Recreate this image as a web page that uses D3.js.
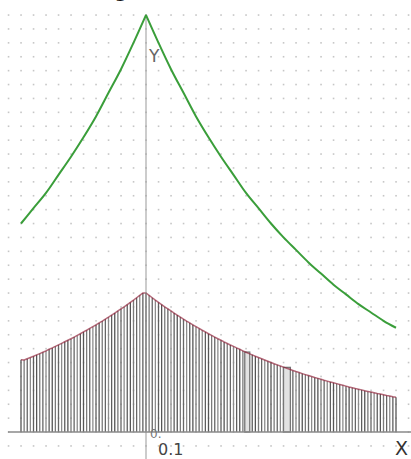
<!DOCTYPE html>
<html>
<head>
<meta charset="utf-8">
<script src="https://cdn.jsdelivr.net/npm/d3@7"></script>
<style>
  html, body { margin: 0; padding: 0; background: #fff; overflow: hidden; }
  svg { display: block; }
</style>
</head>
<body>
<svg width="411" height="459"></svg>
<script>
// green curve, sampled every 0.1 from -1 to 2
var curveX = [-1.0,-0.9,-0.8,-0.7,-0.6,-0.5,-0.4,-0.3,-0.2,-0.1,0.0,
              0.1,0.2,0.3,0.4,0.5,0.6,0.7,0.8,0.9,1.0,
              1.1,1.2,1.3,1.4,1.5,1.6,1.7,1.8,1.9,2.0];
var curveY = [1.50,1.61,1.72,1.85,1.98,2.12,2.27,2.44,2.61,2.80,3.00,
              2.80,2.61,2.44,2.27,2.12,1.98,1.85,1.72,1.61,1.50,
              1.40,1.31,1.22,1.14,1.06,0.99,0.92,0.86,0.80,0.75];

// bars (sticks), every 0.025 from -1 to 2
var barStep = 0.025;
var barStart = -1.0;
var barHeights = [
  0.52,0.518,0.527,0.536,0.545,0.555,0.564,0.574,0.584,0.595,
  0.605,0.616,0.627,0.638,0.649,0.660,0.671,0.683,0.695,0.707,
  0.720,0.732,0.745,0.758,0.771,0.785,0.798,0.812,0.826,0.841,
  0.856,0.871,0.886,0.901,0.917,0.933,0.949,0.966,0.983,1.000,
  1.000,0.983,0.966,0.949,0.933,0.917,0.901,0.886,0.871,0.856,
  0.841,0.827,0.812,0.798,0.785,0.771,0.758,0.745,0.732,0.720,
  0.707,0.695,0.683,0.671,0.660,0.648,0.637,0.626,0.616,0.605,
  0.595,0.584,0.574,0.564,0.555,0.545,0.536,0.527,0.518,0.509,
  0.500,0.491,0.483,0.475,0.467,0.459,0.451,0.443,0.435,0.428,
  0.420,0.413,0.406,0.399,0.392,0.386,0.379,0.372,0.366,0.360,
  0.354,0.348,0.342,0.336,0.330,0.324,0.319,0.313,0.308,0.303,
  0.297,0.292,0.287,0.282,0.277,0.273,0.268,0.263,0.259,0.254,
  0.250
];
// a couple of wider, lighter bars
var wideBars = [{x0: 0.79, x1: 0.83, h: 0.575}, {x0: 1.10, x1: 1.155, h: 0.465}];

var w = 411, h = 459;
var svg = d3.select("svg");

var x = d3.scaleLinear().domain([-1, 2]).range([21, 396]);
var y = d3.scaleLinear().domain([0, 3]).range([432, 15]);

// dotted grid
var gx = d3.range(-12, 22).map(function(k){ return k / 10; });
var gy = d3.range(-2, 32).map(function(k){ return k / 10; });
var dots = [];
gx.forEach(function(a){ gy.forEach(function(b){ dots.push([a, b]); }); });
svg.append("g").selectAll("rect")
  .data(dots.filter(function(d){ var px = x(d[0]), py = y(d[1]); return px > 4 && px < w - 2 && py > 10 && py < h; }))
  .enter().append("rect")
  .attr("x", function(d){ return x(d[0]) - 0.75; })
  .attr("y", function(d){ return y(d[1]) - 0.75; })
  .attr("width", 1.6)
  .attr("height", 1.6)
  .attr("fill", "#c6c6c6");

// sticks
var bars = barHeights.map(function(v, i){ return {x: barStart + i * barStep, v: v}; });
var shades = ["#555", "#7a7a7a", "#666", "#8c8c8c", "#5e5e5e"];
svg.append("g").selectAll("line")
  .data(bars)
  .enter().append("line")
  .attr("x1", function(d){ return x(d.x); })
  .attr("x2", function(d){ return x(d.x); })
  .attr("y1", y(0))
  .attr("y2", function(d){ return y(d.v); })
  .attr("stroke", function(d, i){ return shades[i % shades.length]; })
  .attr("stroke-width", 1.3);

svg.append("g").selectAll("rect")
  .data(wideBars)
  .enter().append("rect")
  .attr("x", function(d){ return x(d.x0); })
  .attr("y", function(d){ return y(d.h); })
  .attr("width", function(d){ return x(d.x1) - x(d.x0); })
  .attr("height", function(d){ return y(0) - y(d.h); })
  .attr("fill", "#e2e2e2")
  .attr("stroke", "#777")
  .attr("stroke-width", 1.3);

// dark red line along the bar tops
svg.append("path")
  .datum(bars)
  .attr("d", d3.line().x(function(d){ return x(d.x); }).y(function(d){ return y(d.v); }))
  .attr("fill", "none")
  .attr("stroke", "#8e1c34")
  .attr("stroke-opacity", 0.65)
  .attr("stroke-width", 1.5);

// axes
svg.append("line")
  .attr("x1", 8).attr("x2", w)
  .attr("y1", y(0)).attr("y2", y(0))
  .attr("stroke", "#8a8a8a").attr("stroke-width", 1.5);
svg.append("line")
  .attr("x1", x(0)).attr("x2", x(0))
  .attr("y1", 14).attr("y2", h)
  .attr("stroke", "#999").attr("stroke-width", 1);

// green curve, drawn as two smooth branches meeting at the cusp
var pts = d3.zip(curveX, curveY);
var greenLine = d3.line().curve(d3.curveMonotoneX)
  .x(function(d){ return x(d[0]); }).y(function(d){ return y(d[1]); });
[pts.filter(function(d){ return d[0] <= 0; }), pts.filter(function(d){ return d[0] >= 0; })]
  .forEach(function(branch){
    svg.append("path")
      .datum(branch)
      .attr("d", greenLine)
      .attr("fill", "none")
      .attr("stroke", "#3a9e3a")
      .attr("stroke-width", 2);
  });

// labels
svg.append("text").text("Y")
  .attr("x", x(0) + 3).attr("y", 62)
  .attr("font-family", "DejaVu Sans, sans-serif").attr("font-size", 17)
  .attr("fill", "#666");
svg.append("text").text("X")
  .attr("x", 395).attr("y", 455)
  .attr("font-family", "DejaVu Sans, sans-serif").attr("font-size", 19)
  .attr("fill", "#333");
svg.append("text").text("0.1")
  .attr("x", x(0) + 12).attr("y", 455)
  .attr("font-family", "DejaVu Sans, sans-serif").attr("font-size", 16)
  .attr("fill", "#444");
svg.append("text").text("0.")
  .attr("x", x(0) + 4).attr("y", 438)
  .attr("font-family", "DejaVu Sans, sans-serif").attr("font-size", 12)
  .attr("fill", "#777");

// caption at the very top, cut by the window edge as in the reference
svg.append("text").text("g")
  .attr("x", 114).attr("y", -3)
  .attr("font-family", "DejaVu Sans, sans-serif").attr("font-size", 22)
  .attr("fill", "#111");
svg.append("text").text("y")
  .attr("x", 68).attr("y", -4)
  .attr("font-family", "DejaVu Sans, sans-serif").attr("font-size", 18)
  .attr("fill", "#444");
svg.append("text").text(")")
  .attr("x", 230).attr("y", -3)
  .attr("font-family", "DejaVu Sans, sans-serif").attr("font-size", 18)
  .attr("fill", "#444");
</script>
</body>
</html>
